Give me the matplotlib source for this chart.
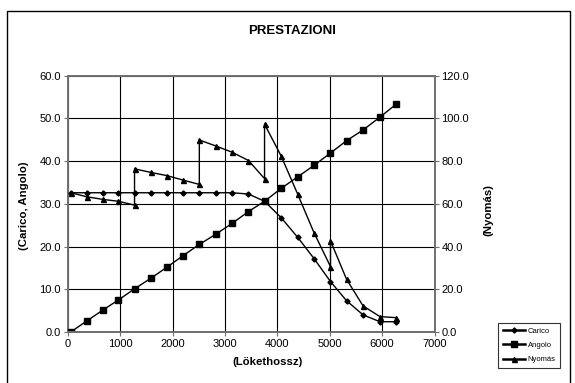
import matplotlib
matplotlib.use("Agg")
import matplotlib.pyplot as plt
from matplotlib.patches import Rectangle

plt.rcParams['font.family'] = ['Liberation Sans', 'DejaVu Sans']

# lökethossz (x) for the 21 measurement points
x = [56, 364, 664, 965, 1273, 1587, 1895, 2203, 2510, 2825, 3133,
     3448, 3755, 4070, 4385, 4699, 5014, 5322, 5636, 5958, 6273]

carico = [32.6, 32.6, 32.6, 32.6, 32.6, 32.6, 32.6, 32.6, 32.6, 32.6, 32.6,
          32.3, 30.6, 26.8, 22.2, 17.2, 11.8, 7.3, 4.0, 2.4, 2.4]

angolo = [0.0, 2.6, 5.1, 7.5, 10.1, 12.6, 15.2, 17.9, 20.5, 22.9, 25.4,
          28.2, 30.6, 33.6, 36.3, 39.0, 41.9, 44.8, 47.3, 50.3, 53.4]

# nyomás has a jump (two values) at some x positions
x_ny = [56, 364, 664, 965, 1273, 1273, 1587, 1895, 2203, 2510, 2510, 2825,
        3133, 3448, 3755, 3755, 4070, 4385, 4699, 5014, 5014, 5322, 5636,
        5958, 6273]
nyomas = [65.2, 63.3, 62.1, 61.2, 59.4, 76.4, 74.7, 73.2, 71.1, 69.1, 89.9,
          87.1, 84.2, 80.3, 71.8, 97.3, 82.5, 64.7, 46.5, 30.6, 42.7, 24.6,
          12.2, 7.2, 6.7]

fig = plt.figure(figsize=(5.75, 3.83), dpi=100)
ax = fig.add_axes([0.118, 0.1332, 0.6377, 0.6691])
ax2 = ax.twinx()

# outer chart border
fig.patches.append(Rectangle((0.012, -0.01), 0.979, 0.981, transform=fig.transFigure,
                             fill=False, edgecolor='black', linewidth=1.0))

l1, = ax.plot(x, carico, color='black', lw=1.0, marker='D', markersize=2.6,
              label='Carico', zorder=3)
l2, = ax.plot(x, angolo, color='black', lw=1.0, marker='s', markersize=4.3,
              label='Angolo', zorder=3)
l3, = ax2.plot(x_ny, nyomas, color='black', lw=1.0, marker='^', markersize=3.6,
               label='Nyomás', zorder=3)

ax.set_xlim(0, 7000)
ax.set_ylim(0, 60)
ax2.set_ylim(0, 120)
ax.set_xticks(range(0, 7001, 1000))
ax.set_yticks(range(0, 61, 10))
ax2.set_yticks(range(0, 121, 20))
ax.set_yticklabels([f"{v:.1f}" for v in range(0, 61, 10)])
ax2.set_yticklabels([f"{v:.1f}" for v in range(0, 121, 20)])

ax.grid(True, color='black', linewidth=0.8)
ax.set_axisbelow(True)
for a in (ax, ax2):
    for s in a.spines.values():
        s.set_color('#707070')
        s.set_linewidth(1.4)
    a.tick_params(labelsize=8, length=3, width=0.8, color='#707070', pad=2)
ax2.spines['left'].set_visible(False)
ax2.spines['top'].set_visible(False)
ax.spines['right'].set_visible(False)

fig.text(0.508, 0.92, 'PRESTAZIONI', ha='center', va='center',
         fontsize=9.5, fontweight='bold')
fig.text(0.465, 0.055, '(Lökethossz)', ha='center', va='center',
         fontsize=8.2, fontweight='bold')
fig.text(0.042, 0.462, '(Carico, Angolo)', ha='center', va='center',
         rotation=90, fontsize=8.2, fontweight='bold')
fig.text(0.849, 0.452, '(Nyomás)', ha='center', va='center',
         rotation=90, fontsize=8.2, fontweight='bold')

leg = fig.legend(handles=[l1, l2, l3], loc='upper left',
                 bbox_to_anchor=(0.866, 0.157), fontsize=5.5,
                 frameon=True, fancybox=False, edgecolor='black',
                 handlelength=3.0, handletextpad=0.3, borderpad=0.6,
                 labelspacing=0.9, borderaxespad=0)
leg.get_frame().set_linewidth(0.8)
for h in leg.legend_handles:
    h.set_linewidth(1.8)

fig.savefig('out.png', dpi=100)
